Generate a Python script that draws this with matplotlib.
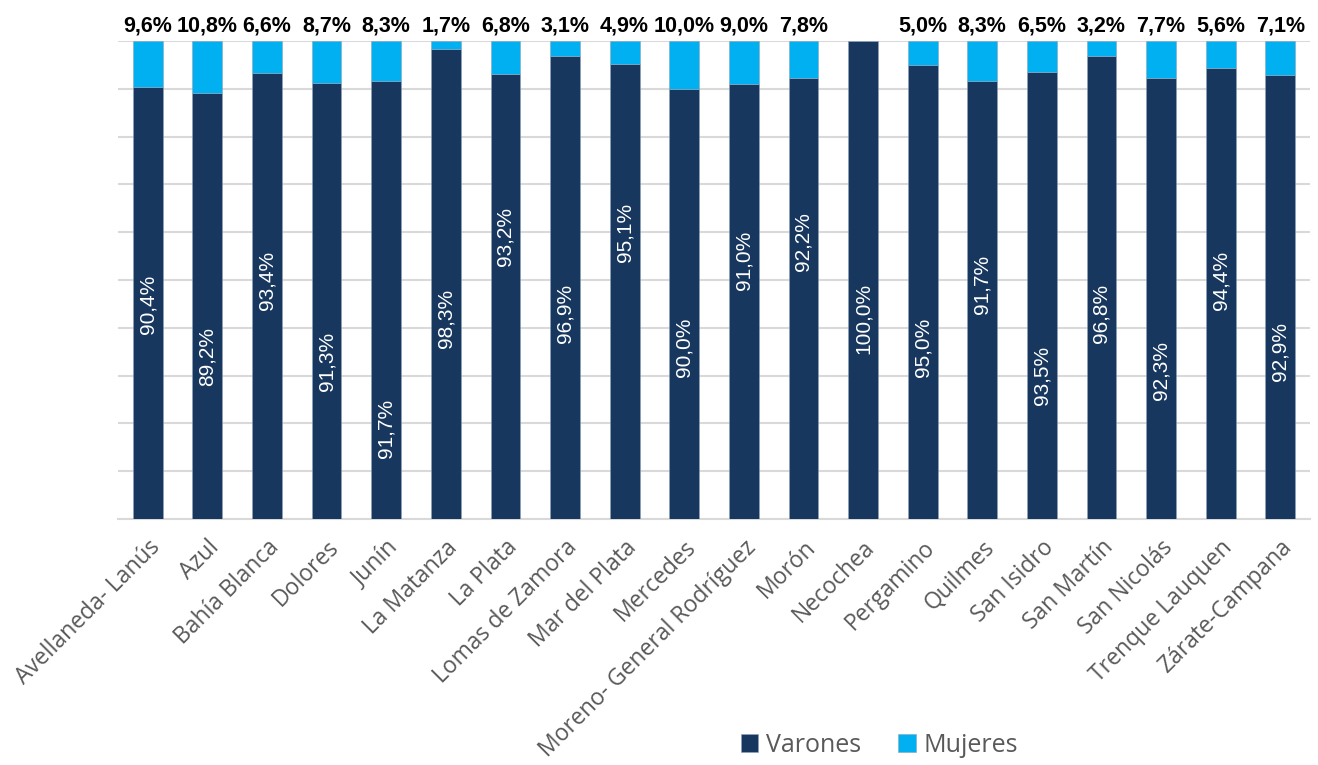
import numpy as np
import matplotlib
matplotlib.use('Agg')
import matplotlib.pyplot as plt

# --- data ---
departamentos = ['Avellaneda- Lanús', 'Azul', 'Bahía Blanca', 'Dolores', 'Junín',
                 'La Matanza', 'La Plata', 'Lomas de Zamora', 'Mar del Plata', 'Mercedes',
                 'Moreno- General Rodríguez', 'Morón', 'Necochea', 'Pergamino', 'Quilmes',
                 'San Isidro', 'San Martín', 'San Nicolás', 'Trenque Lauquen', 'Zárate-Campana']
varones = [90.4, 89.2, 93.4, 91.3, 91.7, 98.3, 93.2, 96.9, 95.1, 90.0,
           91.0, 92.2, 100.0, 95.0, 91.7, 93.5, 96.8, 92.3, 94.4, 92.9]
mujeres = [9.6, 10.8, 6.6, 8.7, 8.3, 1.7, 6.8, 3.1, 4.9, 10.0,
           9.0, 7.8, 0.0, 5.0, 8.3, 6.5, 3.2, 7.7, 5.6, 7.1]

# where the white labels sit inside the dark bars (percent of axis height)
label_pos = [45, 34, 50, 33, 19, 42, 59, 43, 60, 36,
             54, 58, 42, 36, 49, 30, 43, 31, 50, 35]

NAVY = '#17375E'
CYAN = '#00B0F0'

def fmt(v):
    return f'{v:.1f}'.replace('.', ',') + '%'

fig = plt.figure(figsize=(13.18, 7.65), dpi=100)
ax = fig.add_axes([0.0895, 0.3216, 0.9045, 0.6248])

x = np.arange(len(departamentos))
w = 0.5
ax.bar(x, varones, w, color=NAVY, edgecolor='#8FA3BA', linewidth=0.4, label='Varones', zorder=3)
ax.bar(x, mujeres, w, bottom=varones, color=CYAN, edgecolor='#8FA3BA', linewidth=0.4,
       label='Mujeres', zorder=3)

for i in range(len(x)):
    ax.text(x[i], label_pos[i], fmt(varones[i]), rotation=90, ha='center', va='center',
            color='white', fontsize=15, family='Liberation Sans', zorder=4)
    if mujeres[i] > 0:
        ax.text(x[i], 101.0, fmt(mujeres[i]), ha='center', va='bottom', color='black',
                fontsize=15.5, family='Liberation Sans', fontweight='bold')

ax.set_xlim(-0.5, len(x) - 0.5)
ax.set_ylim(0, 100)
ax.set_yticks(np.arange(0, 101, 10))
ax.set_yticklabels([])
ax.tick_params(axis='y', length=0)
ax.tick_params(axis='x', length=0, pad=12)
ax.yaxis.grid(True, color='#D9D9D9', linewidth=1.5, zorder=0)
for s in ['top', 'right', 'left']:
    ax.spines[s].set_visible(False)
ax.spines['bottom'].set_color('#D9D9D9')
ax.spines['bottom'].set_linewidth(1.5)

ax.set_xticks(x)
ax.set_xticklabels(departamentos, rotation=45, ha='right', rotation_mode='anchor',
                   color='#595959', fontsize=16.5, family='Open Sans')

fig.legend(loc='center', bbox_to_anchor=(0.667, 0.026), ncol=2, frameon=False,
           prop={'family': 'Open Sans', 'size': 18}, handlelength=0.7, handleheight=0.7,
           handletextpad=0.3, columnspacing=1.5, labelcolor='#595959')

fig.savefig('out.png', dpi=100)
